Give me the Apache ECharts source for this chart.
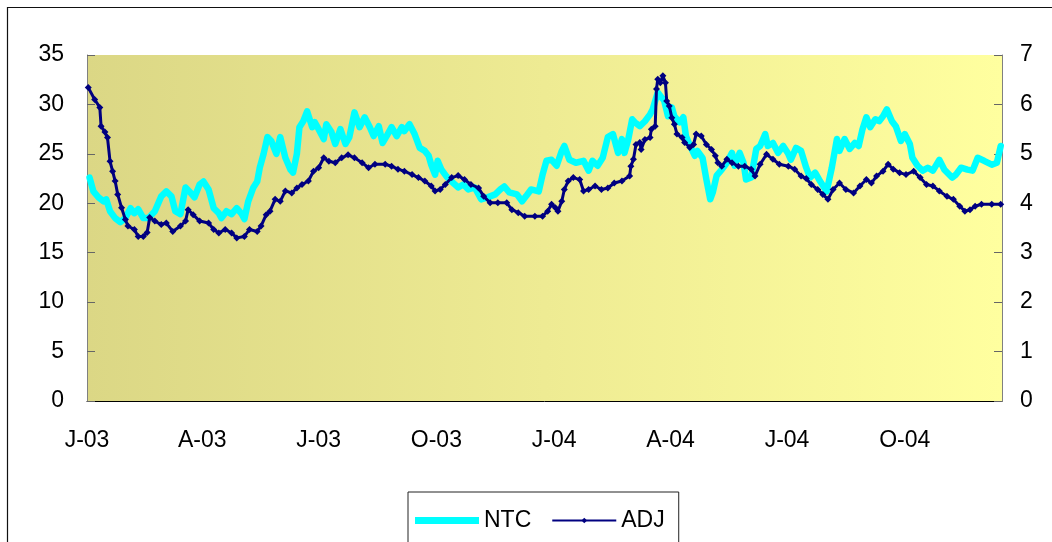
<!DOCTYPE html>
<html>
<head>
<meta charset="utf-8">
<script src="https://cdn.jsdelivr.net/npm/echarts@6/dist/echarts.min.js"></script>
<style>
  html, body { margin: 0; padding: 0; background: #ffffff; }
  #chart { width: 1052px; height: 542px; }
</style>
</head>
<body>
<div id="chart"></div>
<script>
// Quarterly tick labels along the date axis
const tickDates = ['2003-01-01', '2003-04-01', '2003-07-01', '2003-10-01',
                   '2004-01-01', '2004-04-01', '2004-07-01', '2004-10-01'];
const tickLabels = ['J-03', 'A-03', 'J-03', 'O-03', 'J-04', 'A-04', 'J-04', 'O-04'];

// NTC (left axis)
const ntcDates = [
  '2003-01-03','2003-01-06','2003-01-10','2003-01-14','2003-01-16','2003-01-19','2003-01-23','2003-01-27','2003-01-31',
  '2003-02-04','2003-02-07','2003-02-10','2003-02-14','2003-02-18','2003-02-23','2003-02-28',
  '2003-03-04','2003-03-08','2003-03-11','2003-03-15','2003-03-19','2003-03-22','2003-03-26','2003-03-30',
  '2003-04-02','2003-04-06','2003-04-10','2003-04-14','2003-04-16','2003-04-20','2003-04-24','2003-04-28',
  '2003-05-02','2003-05-04','2003-05-07','2003-05-11','2003-05-14','2003-05-16','2003-05-19','2003-05-22','2003-05-25','2003-05-29',
  '2003-06-01','2003-06-05','2003-06-09','2003-06-11','2003-06-14','2003-06-16','2003-06-19','2003-06-22','2003-06-26','2003-06-28',
  '2003-07-01','2003-07-05','2003-07-07','2003-07-11','2003-07-14','2003-07-18','2003-07-22','2003-07-25','2003-07-29',
  '2003-08-02','2003-08-06','2003-08-10','2003-08-13','2003-08-17','2003-08-20','2003-08-24','2003-08-27','2003-08-31',
  '2003-09-04','2003-09-06','2003-09-10','2003-09-14','2003-09-18','2003-09-22','2003-09-25','2003-09-27','2003-09-30',
  '2003-10-02','2003-10-05','2003-10-09','2003-10-13','2003-10-18','2003-10-22','2003-10-26','2003-10-31',
  '2003-11-05','2003-11-10','2003-11-16','2003-11-20','2003-11-23','2003-11-27',
  '2003-12-03','2003-12-07','2003-12-10','2003-12-14','2003-12-20','2003-12-23','2003-12-26','2003-12-30',
  '2004-01-03','2004-01-07','2004-01-09','2004-01-13','2004-01-18','2004-01-24','2004-01-28','2004-01-31',
  '2004-02-04','2004-02-08','2004-02-12','2004-02-16','2004-02-20','2004-02-23','2004-02-25','2004-02-28',
  '2004-03-02','2004-03-04','2004-03-08','2004-03-12','2004-03-16','2004-03-18','2004-03-22','2004-03-25','2004-03-27','2004-03-30',
  '2004-04-02','2004-04-04','2004-04-08','2004-04-11','2004-04-13','2004-04-17','2004-04-20','2004-04-22','2004-04-26','2004-04-29',
  '2004-05-02','2004-05-04','2004-05-07','2004-05-11','2004-05-15','2004-05-19','2004-05-21','2004-05-25','2004-05-28','2004-05-30',
  '2004-06-03','2004-06-07','2004-06-10','2004-06-14','2004-06-16','2004-06-20','2004-06-24','2004-06-28',
  '2004-07-02','2004-07-04','2004-07-08','2004-07-12','2004-07-16','2004-07-19','2004-07-23','2004-07-27',
  '2004-08-01','2004-08-05','2004-08-09','2004-08-11','2004-08-15','2004-08-19','2004-08-23','2004-08-26','2004-08-29',
  '2004-09-01','2004-09-04','2004-09-08','2004-09-11','2004-09-14','2004-09-17','2004-09-21','2004-09-24','2004-09-28',
  '2004-10-01','2004-10-05','2004-10-07','2004-10-11','2004-10-15','2004-10-19','2004-10-23','2004-10-28',
  '2004-11-01','2004-11-07','2004-11-10','2004-11-14','2004-11-19','2004-11-23','2004-11-27',
  '2004-12-02','2004-12-08','2004-12-12','2004-12-15'
];
const ntcValues = [
  22.6,21.2,20.6,20.2,20.4,19.2,18.5,18.1,18.5,
  19.5,19.0,19.4,18.5,18.5,19.2,20.7,
  21.2,20.7,19.2,18.9,21.6,21.2,20.6,21.9,
  22.2,21.4,19.5,19.0,18.5,19.2,18.9,19.5,
  18.9,18.4,20.2,21.6,22.2,23.6,25.0,26.7,26.3,25.0,
  26.7,24.6,23.4,23.1,25.0,27.7,28.3,29.3,27.7,28.2,
  27.5,26.5,28.0,27.2,26.0,27.5,26.0,26.7,29.2,
  27.7,28.7,27.7,26.8,27.8,26.1,27.0,27.7,26.8,
  27.7,27.3,28.0,27.0,25.6,25.3,24.8,23.9,22.9,
  24.3,23.4,22.7,22.2,21.6,21.9,21.4,21.6,
  20.4,20.6,20.9,21.4,21.7,21.1,
  20.9,20.2,20.7,21.4,21.2,22.9,24.3,24.4,
  23.8,25.3,25.8,24.4,24.1,24.3,23.3,24.3,
  23.8,24.6,26.7,27.0,25.1,26.5,25.1,26.5,
  28.5,28.2,27.8,28.3,29.0,29.5,31.2,30.7,30.4,28.8,
  29.7,28.8,28.2,28.7,26.8,25.6,24.8,25.3,24.6,22.4,
  20.4,21.1,22.8,23.4,24.1,25.1,23.8,25.1,24.1,22.4,
  22.6,25.5,25.8,27.0,25.8,26.1,25.1,25.8,
  25.0,24.4,25.6,25.3,23.6,22.6,23.1,22.2,
  21.2,23.6,26.5,25.3,26.5,25.5,26.1,25.8,27.5,
  28.7,27.7,28.5,28.3,28.8,29.5,28.3,27.8,26.3,
  27.0,26.0,24.6,23.8,23.3,23.6,23.3,24.4,
  23.4,22.6,22.9,23.6,23.4,23.3,24.6,
  24.3,23.9,24.1,25.8
];

// ADJ (right axis)
const adjDates = [
  '2003-01-02','2003-01-07','2003-01-11','2003-01-12','2003-01-15','2003-01-17','2003-01-19','2003-01-21','2003-01-23','2003-01-25','2003-01-28','2003-01-31',
  '2003-02-02','2003-02-07','2003-02-10','2003-02-14','2003-02-17','2003-02-19','2003-02-23','2003-02-28',
  '2003-03-04','2003-03-09','2003-03-15','2003-03-19','2003-03-21','2003-03-25','2003-03-30',
  '2003-04-06','2003-04-10','2003-04-14','2003-04-19','2003-04-24','2003-04-28',
  '2003-05-04','2003-05-08','2003-05-14','2003-05-17','2003-05-21','2003-05-24','2003-05-28',
  '2003-06-01','2003-06-05','2003-06-10','2003-06-14','2003-06-18','2003-06-23','2003-06-27',
  '2003-07-01','2003-07-05','2003-07-09','2003-07-14','2003-07-19','2003-07-24','2003-07-29',
  '2003-08-04','2003-08-09','2003-08-14','2003-08-22','2003-08-27',
  '2003-09-01','2003-09-06','2003-09-12','2003-09-17','2003-09-22','2003-09-27','2003-09-30',
  '2003-10-04','2003-10-08','2003-10-13','2003-10-18','2003-10-23','2003-10-28',
  '2003-11-03','2003-11-07','2003-11-12','2003-11-18','2003-11-25','2003-11-29',
  '2003-12-04','2003-12-09','2003-12-17','2003-12-23','2003-12-27','2003-12-30',
  '2004-01-02','2004-01-04','2004-01-07','2004-01-09','2004-01-12','2004-01-16','2004-01-21','2004-01-24','2004-01-28',
  '2004-02-02','2004-02-07','2004-02-12','2004-02-17','2004-02-23','2004-02-29',
  '2004-03-01','2004-03-03','2004-03-05','2004-03-08','2004-03-09','2004-03-12','2004-03-16','2004-03-17','2004-03-20',
  '2004-03-21','2004-03-22','2004-03-24','2004-03-26','2004-03-28','2004-03-29','2004-03-31',
  '2004-04-02','2004-04-04','2004-04-06','2004-04-10','2004-04-12','2004-04-16','2004-04-19','2004-04-21','2004-04-25','2004-04-29',
  '2004-05-03','2004-05-06','2004-05-08','2004-05-11','2004-05-15','2004-05-19','2004-05-24','2004-05-29',
  '2004-06-03','2004-06-06','2004-06-10','2004-06-15','2004-06-20','2004-06-25',
  '2004-07-02','2004-07-07','2004-07-12','2004-07-16','2004-07-20','2004-07-25','2004-07-29',
  '2004-08-02','2004-08-06','2004-08-11','2004-08-16','2004-08-22','2004-08-27',
  '2004-09-01','2004-09-05','2004-09-09','2004-09-14','2004-09-18','2004-09-22','2004-09-27',
  '2004-10-02','2004-10-08','2004-10-13','2004-10-18','2004-10-23','2004-10-28',
  '2004-11-03','2004-11-08','2004-11-13','2004-11-17','2004-11-21','2004-11-25','2004-11-30',
  '2004-12-08','2004-12-15'
];
const adjValues = [
  6.34,6.10,5.94,5.56,5.44,5.33,4.85,4.65,4.45,4.18,3.91,3.67,
  3.54,3.47,3.33,3.33,3.41,3.71,3.64,3.57,
  3.60,3.43,3.54,3.64,3.87,3.77,3.64,
  3.60,3.47,3.40,3.47,3.40,3.30,
  3.33,3.47,3.43,3.54,3.77,3.84,4.08,
  4.04,4.25,4.21,4.31,4.38,4.45,4.65,
  4.72,4.92,4.85,4.82,4.92,4.98,4.92,
  4.82,4.72,4.79,4.79,4.75,
  4.69,4.65,4.58,4.52,4.45,4.35,4.25,
  4.28,4.38,4.52,4.56,4.48,4.38,
  4.31,4.14,4.01,4.01,4.01,3.87,
  3.81,3.74,3.74,3.74,3.84,3.98,
  3.91,3.84,4.04,4.28,4.45,4.52,4.48,4.25,4.28,
  4.35,4.28,4.31,4.41,4.45,4.55,
  4.75,4.89,5.19,5.23,5.09,5.29,5.33,5.50,5.56,
  6.31,6.51,6.44,6.58,6.44,6.07,5.97,
  5.73,5.60,5.40,5.33,5.23,5.13,5.19,5.40,5.36,5.19,
  5.09,4.96,4.82,4.75,4.89,4.82,4.75,4.75,
  4.69,4.55,4.79,4.99,4.89,4.79,
  4.75,4.69,4.55,4.50,4.38,4.28,4.18,
  4.08,4.28,4.41,4.28,4.21,4.35,
  4.48,4.41,4.55,4.65,4.79,4.69,4.62,
  4.58,4.65,4.52,4.38,4.35,4.25,
  4.14,4.08,3.94,3.84,3.87,3.94,3.98,
  3.98,3.98
];

function toTime(s) {
  const p = s.split('-').map(Number);
  return new Date(p[0], p[1] - 1, p[2]).getTime();
}
const tickTimes = tickDates.map(toTime);
const ntcData = ntcDates.map((d, i) => [toTime(d), ntcValues[i]]);
const adjData = adjDates.map((d, i) => [toTime(d), adjValues[i]]);

const FONT = "'Liberation Sans', Arial, sans-serif";
const chart = echarts.init(document.getElementById('chart'), null, { renderer: 'canvas' });

chart.setOption({
  animation: false,
  backgroundColor: '#ffffff',
  graphic: [{
    type: 'rect',
    shape: { x: 7.5, y: 7.5, width: 1100, height: 600 },
    style: { fill: null, stroke: '#111111', lineWidth: 1.2 },
    z: 100
  }],
  grid: {
    left: 87, right: 50, top: 55, bottom: 141,
    show: true,
    borderWidth: 0,
    backgroundColor: new echarts.graphic.LinearGradient(0, 0, 1, 0, [
      { offset: 0, color: '#DBD785' },
      { offset: 0.5, color: '#EEEB93' },
      { offset: 1, color: '#FFFF9F' }
    ])
  },
  legend: {
    left: 408, top: 492,
    padding: [17, 14, 20, 7],
    borderColor: '#222222', borderWidth: 1,
    backgroundColor: '#ffffff',
    itemWidth: 64, itemHeight: 7, itemGap: 20,
    textStyle: { fontFamily: FONT, fontSize: 23, color: '#000000' },
    data: [
      { name: 'NTC', icon: 'rect', itemStyle: { color: '#00FFFF' } },
      { name: 'ADJ' }
    ]
  },
  xAxis: {
    // dates as millisecond timestamps on a plain numeric scale
    type: 'value',
    min: toTime('2003-01-01'),
    max: toTime('2004-12-16'),
    axisLine: { show: true, lineStyle: { color: '#000000', width: 1 } },
    axisTick: { show: false },
    splitLine: { show: false },
    axisLabel: {
      customValues: tickTimes,
      margin: 28,
      fontFamily: FONT, fontSize: 23, color: '#000000',
      formatter: function (v) {
        const i = tickTimes.indexOf(v);
        return i >= 0 ? tickLabels[i] : '';
      }
    }
  },
  yAxis: [{
    type: 'value', min: 0, max: 35, interval: 5, position: 'left',
    axisLine: { show: true, lineStyle: { color: '#808080', width: 1 } },
    axisTick: { show: true, inside: true, length: 8, lineStyle: { color: '#666666' } },
    splitLine: { show: false },
    axisLabel: { margin: 23, fontFamily: FONT, fontSize: 23, color: '#000000' }
  }, {
    type: 'value', min: 0, max: 7, interval: 1, position: 'right',
    axisLine: { show: true, lineStyle: { color: '#808080', width: 1 } },
    axisTick: { show: true, inside: true, length: 8, lineStyle: { color: '#666666' } },
    splitLine: { show: false },
    axisLabel: { margin: 18, fontFamily: FONT, fontSize: 23, color: '#000000' }
  }],
  series: [{
    name: 'NTC',
    type: 'line',
    yAxisIndex: 0,
    data: ntcData,
    showSymbol: false,
    symbol: 'none',
    lineStyle: { color: '#00FFFF', width: 6.5, join: 'round', cap: 'round' },
    itemStyle: { color: '#00FFFF' }
  }, {
    name: 'ADJ',
    type: 'line',
    yAxisIndex: 1,
    data: adjData,
    symbol: 'diamond',
    symbolSize: 7,
    showAllSymbol: true,
    lineStyle: { color: '#000080', width: 3, join: 'round' },
    itemStyle: { color: '#000080' }
  }]
});
</script>
</body>
</html>
